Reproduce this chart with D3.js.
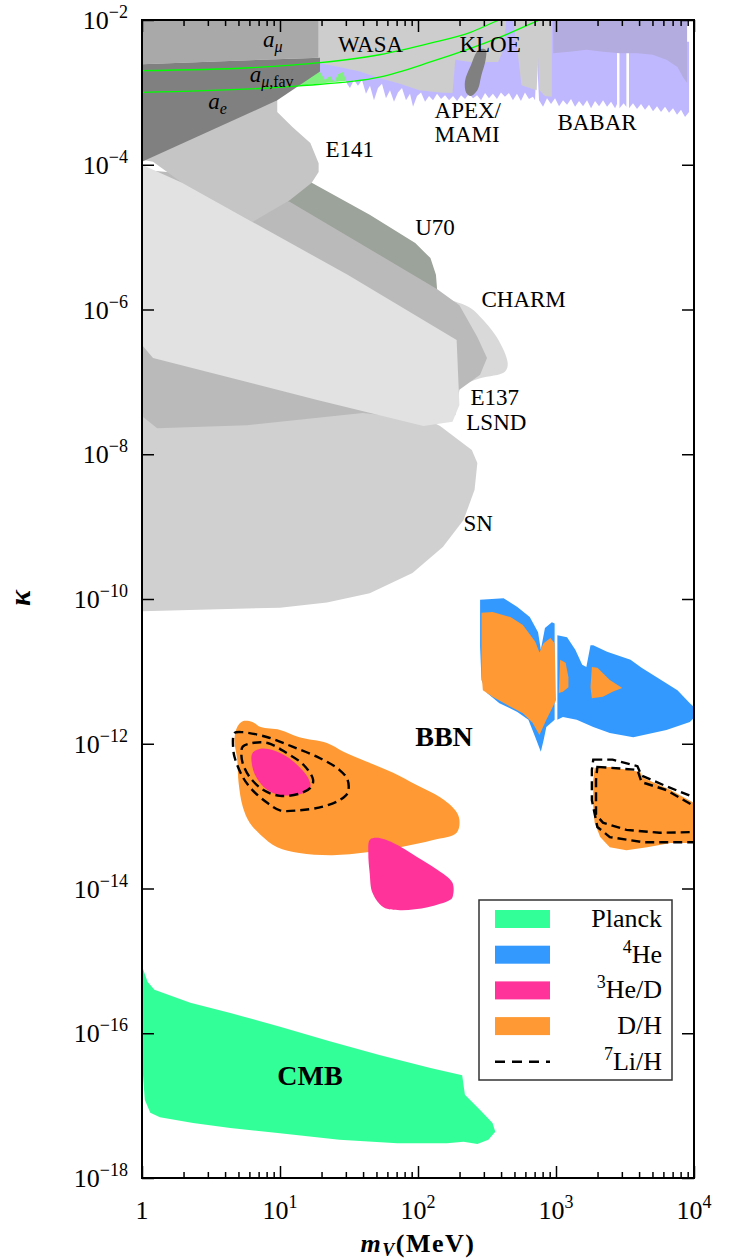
<!DOCTYPE html>
<html>
<head>
<meta charset="utf-8">
<script src="https://cdnjs.cloudflare.com/ajax/libs/d3/7.8.5/d3.min.js"></script>
<style>
  body { margin: 0; background: #fff; }
  svg text { font-family: "Liberation Serif", "DejaVu Serif", serif; fill: #000; }
</style>
</head>
<body>
<svg id="chart" width="735" height="1259" font-family="Liberation Serif, DejaVu Serif, serif"></svg>
<script>
// All region outlines are [log10(m_V / MeV), log10(kappa)] pairs.

// --- excluded regions from beam dumps, colliders, g-2 and supernovae ---
const snRegion = [[0,-7.32],[1.15,-7.32],[2.01,-7.46],[2.16,-7.61],[2.39,-7.94],[2.43,-8.12],[2.41,-8.49],[2.33,-8.91],[2.18,-9.28],[1.96,-9.64],[1.65,-9.92],[1.34,-10.05],[1.0,-10.12],[0,-10.17]];
const charmRegion = [[2.16,-5.87],[2.30,-5.91],[2.38,-5.98],[2.45,-6.10],[2.57,-6.38],[2.65,-6.74],[2.63,-6.86],[2.45,-6.95],[2.30,-7.04],[2.16,-7.04]];
const u70Region = [[0.78,-3.66],[1.23,-4.25],[1.65,-4.69],[1.98,-5.08],[2.09,-5.29],[2.13,-5.52],[2.14,-5.76],[1.87,-5.45],[1.07,-4.55],[0.78,-4.21]];
const e137Region = [[0,-4.07],[0.42,-4.14],[1.07,-4.51],[2.14,-5.72],[2.30,-5.94],[2.43,-6.38],[2.50,-6.67],[2.45,-6.90],[2.30,-7.11],[2.27,-7.46],[2.09,-7.53],[1.60,-7.43],[0.76,-7.60],[0.11,-7.64],[0.01,-7.49],[0,-7.25]];
const e141Region = [[0,-3.66],[0.88,-3.04],[0.98,-3.11],[0.98,-3.27],[1.09,-3.48],[1.22,-3.70],[1.28,-3.98],[1.28,-4.10],[1.23,-4.25],[1.07,-4.49],[0.80,-4.79],[0.29,-4.25],[0.08,-3.96],[0,-3.93]];
const lsndRegion = [[0,-4.0],[0.29,-4.25],[0.80,-4.79],[1.49,-5.52],[2.28,-6.42],[2.30,-7.32],[2.25,-7.55],[2.04,-7.61],[1.27,-7.25],[0.08,-6.67],[0,-6.49]];
const amuRegion = [[0,-2],[1.28,-2],[1.28,-2.52],[0,-2.61]];
const aeRegion = [[0,-2.61],[1.29,-2.52],[1.29,-2.71],[0.98,-3.11],[0,-3.96]];
const wasaRegion = [[1.28,-2.0],[2.64,-2.0],[2.62,-2.41],[2.58,-2.58],[2.38,-2.58],[2.27,-2.55],[2.25,-3.01],[2.16,-3.00],[2.01,-2.97],[1.87,-2.88],[1.72,-2.80],[1.58,-2.71],[1.43,-2.65],[1.28,-2.59]];
const kloeRegion = [[2.69,-2.0],[2.97,-2.0],[2.97,-3.06],[2.92,-3.05],[2.88,-2.97],[2.87,-2.52],[2.86,-2.97],[2.81,-2.94],[2.75,-2.90],[2.72,-2.41]];
const kloeBlob = [[2.44,-2.41],[2.49,-2.41],[2.49,-2.55],[2.46,-2.76],[2.43,-2.97],[2.38,-3.05],[2.35,-3.01],[2.34,-2.85],[2.38,-2.64]];

// lower edge of the APEX / MAMI / BABAR exclusion (left to right)
const apexLowerEdge = [[1.290,-2.72],[1.326,-2.83],[1.362,-2.77],[1.391,-2.86],[1.420,-2.75],[1.457,-2.72],[1.486,-2.88],[1.507,-2.94],[1.536,-2.83],[1.565,-2.91],[1.594,-2.83],[1.623,-3.02],[1.652,-2.91],[1.681,-3.11],[1.710,-2.94],[1.739,-2.88],[1.768,-3.08],[1.797,-2.97],[1.826,-3.13],[1.855,-3.00],[1.884,-2.94],[1.913,-3.11],[1.942,-3.02],[1.964,-3.20],[1.993,-3.05],[2.022,-3.00],[2.051,-3.13],[2.080,-3.05],[2.109,-3.11],[2.138,-3.02],[2.167,-3.09],[2.196,-3.04],[2.225,-3.11],[2.254,-3.05],[2.283,-3.12],[2.312,-3.04],[2.341,-3.09],[2.370,-3.02],[2.399,-3.08],[2.428,-3.04],[2.457,-3.11],[2.486,-3.01],[2.514,-3.08],[2.543,-3.02],[2.572,-3.09],[2.601,-3.00],[2.630,-3.06],[2.659,-3.01],[2.688,-3.11],[2.717,-3.02],[2.746,-3.12],[2.775,-3.00],[2.804,-3.09],[2.833,-3.06],[2.848,-3.11],[2.862,-2.48],[2.877,-3.11],[2.906,-3.20],[2.935,-3.08],[2.964,-3.16],[2.993,-3.08],[3.022,-3.19],[3.051,-3.11],[3.080,-3.17],[3.109,-3.09],[3.138,-3.20],[3.167,-3.12],[3.196,-3.19],[3.225,-3.11],[3.254,-3.22],[3.283,-3.12],[3.312,-3.19],[3.341,-3.11],[3.370,-3.20],[3.399,-3.13],[3.428,-3.22],[3.442,-3.16]];
const babarGapEdge = [[3.46,-3.22],[3.49,-3.15],[3.51,-3.20]];
const babarLowerEdge = [[3.529,-3.22],[3.558,-3.15],[3.587,-3.23],[3.616,-3.16],[3.645,-3.24],[3.674,-3.17],[3.703,-3.26],[3.732,-3.19],[3.761,-3.27],[3.790,-3.20],[3.819,-3.28],[3.848,-3.22],[3.877,-3.31],[3.906,-3.24],[3.935,-3.34],[3.964,-3.27]];
const babarRegion = [[2.98,-2.0],[3.95,-2.0],[3.95,-2.87],[3.92,-2.79],[3.88,-2.65],[3.80,-2.55],[3.70,-2.48],[3.59,-2.46],[3.46,-2.46],[3.34,-2.44],[3.22,-2.41],[3.10,-2.44],[2.98,-2.46]];
const amuFavUpper = [[0,-2.70],[0.78,-2.66],[1.29,-2.59],[1.72,-2.48],[2.09,-2.32],[2.38,-2.17],[2.59,-2.0],[2.75,-1.9]];
const amuFavLower = [[0,-3.00],[1.14,-2.91],[1.72,-2.79],[2.09,-2.58],[2.59,-2.24],[2.88,-2.0],[3.0,-1.9]];

// --- BBN constraints ---
const he4Regions = [
  [[2.45,-10.01],[2.62,-9.99],[2.72,-10.11],[2.81,-10.25],[2.87,-10.46],[2.89,-10.70],[2.92,-10.40],[2.97,-10.32],[2.99,-10.34],[2.99,-11.67],[2.93,-11.77],[2.91,-11.95],[2.89,-12.11],[2.85,-11.91],[2.80,-11.67],[2.72,-11.56],[2.59,-11.44],[2.50,-11.30],[2.46,-11.12],[2.45,-10.66]],
  [[3.01,-10.50],[3.08,-10.53],[3.14,-10.70],[3.19,-10.91],[3.22,-10.94],[3.25,-10.64],[3.27,-10.64],[3.37,-10.73],[3.54,-10.84],[3.62,-10.95],[3.73,-11.08],[3.88,-11.26],[3.97,-11.44],[4.04,-11.56],[3.97,-11.70],[3.80,-11.81],[3.56,-11.91],[3.39,-11.85],[3.27,-11.77],[3.15,-11.67],[3.05,-11.63],[3.01,-11.67]]
];
const dhHeavyRegions = [
  [[2.46,-10.19],[2.54,-10.18],[2.67,-10.25],[2.76,-10.36],[2.85,-10.59],[2.88,-10.74],[2.91,-10.61],[2.96,-10.54],[2.99,-10.61],[3.00,-11.40],[2.93,-11.67],[2.88,-11.88],[2.83,-11.71],[2.76,-11.58],[2.67,-11.49],[2.54,-11.35],[2.47,-11.26],[2.46,-11.02]],
  [[3.03,-10.84],[3.07,-10.88],[3.09,-11.08],[3.09,-11.22],[3.05,-11.28],[3.02,-11.30]],
  [[3.26,-10.94],[3.30,-10.95],[3.39,-11.12],[3.48,-11.23],[3.41,-11.28],[3.34,-11.35],[3.26,-11.37],[3.25,-11.22]]
];
const dhLightRegion = [[0.69,-11.77],[0.73,-11.69],[0.80,-11.70],[0.86,-11.77],[1.00,-11.81],[1.14,-11.91],[1.34,-11.99],[1.46,-12.11],[1.63,-12.25],[1.82,-12.40],[1.99,-12.57],[2.16,-12.74],[2.27,-12.92],[2.30,-13.05],[2.28,-13.23],[2.11,-13.33],[1.87,-13.43],[1.63,-13.50],[1.38,-13.54],[1.14,-13.51],[0.98,-13.43],[0.86,-13.26],[0.78,-13.09],[0.73,-12.87],[0.70,-12.54],[0.69,-12.22],[0.67,-11.95]];
const dhHighRegion = [[3.28,-12.33],[3.39,-12.32],[3.61,-12.39],[3.63,-12.47],[3.83,-12.64],[4.0,-12.82],[4.12,-12.94],[4.12,-13.40],[4.0,-13.37],[3.83,-13.37],[3.66,-13.43],[3.51,-13.47],[3.39,-13.43],[3.32,-13.29],[3.28,-13.09],[3.27,-12.87],[3.27,-12.50]];
const he3dRegions = [
  [[0.80,-12.13],[0.86,-12.07],[0.95,-12.09],[1.05,-12.18],[1.14,-12.32],[1.20,-12.46],[1.22,-12.60],[1.17,-12.68],[1.09,-12.71],[1.00,-12.71],[0.91,-12.64],[0.84,-12.50],[0.80,-12.32]],
  [[1.65,-13.33],[1.70,-13.30],[1.82,-13.37],[1.99,-13.56],[2.14,-13.74],[2.25,-13.92],[2.25,-14.12],[2.23,-14.16],[2.07,-14.26],[1.87,-14.30],[1.75,-14.26],[1.67,-14.06],[1.65,-13.79],[1.64,-13.51]]
];
const li7LowContours = [
  [[0.66,-11.92],[0.67,-11.85],[0.73,-11.84],[0.91,-11.91],[1.09,-12.04],[1.29,-12.20],[1.43,-12.36],[1.49,-12.50],[1.49,-12.68],[1.43,-12.78],[1.31,-12.87],[1.14,-12.92],[1.00,-12.92],[0.91,-12.82],[0.80,-12.64],[0.73,-12.46],[0.67,-12.18],[0.66,-12.04]],
  [[0.73,-12.04],[0.80,-11.99],[0.91,-11.99],[1.05,-12.13],[1.17,-12.29],[1.24,-12.50],[1.22,-12.61],[1.14,-12.69],[1.00,-12.72],[0.88,-12.64],[0.78,-12.46],[0.73,-12.27],[0.72,-12.13]]
];
const li7HighContours = [
  [[3.27,-12.22],[3.41,-12.22],[3.59,-12.31],[3.62,-12.44],[3.79,-12.58],[4.0,-12.74],[4.12,-12.86],[4.12,-13.37],[4.0,-13.36],[3.63,-13.36],[3.39,-13.29],[3.30,-13.15],[3.26,-12.78],[3.26,-12.36]],
  [[3.30,-12.32],[3.59,-12.36],[3.62,-12.53],[3.80,-12.64],[4.0,-12.86],[4.12,-12.98],[4.12,-13.22],[4.0,-13.22],[3.75,-13.23],[3.51,-13.19],[3.34,-13.09],[3.29,-12.98],[3.29,-12.50]]
];

// --- CMB (Planck) ---
const cmbRegion = [[0,-15.07],[0.04,-15.29],[0.09,-15.40],[0.35,-15.58],[0.64,-15.72],[1.0,-15.91],[1.36,-16.11],[1.72,-16.30],[2.09,-16.48],[2.32,-16.58],[2.34,-16.85],[2.45,-17.06],[2.54,-17.24],[2.56,-17.36],[2.51,-17.47],[2.43,-17.53],[2.33,-17.50],[2.21,-17.52],[1.85,-17.52],[1.43,-17.47],[1.0,-17.38],[0.64,-17.31],[0.37,-17.24],[0.13,-17.16],[0.06,-17.10],[0.02,-16.92],[0.01,-16.65],[0,-16.37]];

// --- axis ticks and labels ---
const xTickValues = [1, 10, 100, 1000, 10000];
const xTickExponents = ["", "1", "2", "3", "4"];
const yTickValues = [1e-2, 1e-4, 1e-6, 1e-8, 1e-10, 1e-12, 1e-14, 1e-16, 1e-18];
const yTickExponents = ["−2", "−4", "−6", "−8", "−10", "−12", "−14", "−16", "−18"];

// --- region names placed at [log10 m, log10 kappa] of their baseline start ---
const regionLabels = [
  { t: "WASA", m: 1.42, k: -2.44 },
  { t: "KLOE", m: 2.30, k: -2.44 },
  { t: "APEX/", m: 2.12, k: -3.35 },
  { t: "MAMI", m: 2.12, k: -3.68 },
  { t: "BABAR", m: 3.01, k: -3.52 },
  { t: "E141", m: 1.33, k: -3.89 },
  { t: "U70", m: 1.98, k: -4.97 },
  { t: "CHARM", m: 2.46, k: -5.965 },
  { t: "E137", m: 2.38, k: -7.32 },
  { t: "LSND", m: 2.35, k: -7.67 },
  { t: "SN", m: 2.33, k: -9.06 }
];
const boldLabels = [
  { t: "BBN", m: 1.98, k: -12.03 },
  { t: "CMB", m: 0.98, k: -16.72 }
];
const anomalyLabels = [
  { base: "a", sub: "μ", rest: "", m: 0.877, k: -2.37 },
  { base: "a", sub: "μ", rest: ",fav", m: 0.78, k: -2.86 },
  { base: "a", sub: "e", rest: "", m: 0.48, k: -3.23 }
];
const legendItems = [
  { sup: "", name: "Planck", color: "#33ff99" },
  { sup: "4", name: "He", color: "#3399ff" },
  { sup: "3", name: "He/D", color: "#ff3399" },
  { sup: "", name: "D/H", color: "#ff9933" },
  { sup: "7", name: "Li/H", color: null }
];

// ---------------------------------------------------------------------------
const plot = { left: 142, right: 694, top: 20, bottom: 1178 };
const x = d3.scaleLog().domain([1, 1e4]).range([plot.left, plot.right]);
const y = d3.scaleLog().domain([1e-18, 1e-2]).range([plot.bottom, plot.top]);

const svg = d3.select("#chart");
svg.append("defs").append("clipPath").attr("id", "plotClip")
  .append("rect")
  .attr("x", plot.left).attr("y", plot.top)
  .attr("width", plot.right - plot.left).attr("height", plot.bottom - plot.top);

const px = d => x(Math.pow(10, d[0]));
const py = d => y(Math.pow(10, d[1]));
const linear = d3.line().x(px).y(py).curve(d3.curveLinearClosed);
const smooth = d3.line().x(px).y(py).curve(d3.curveCatmullRomClosed.alpha(0.5));
const openLine = d3.line().x(px).y(py).curve(d3.curveMonotoneX);

const layer = svg.append("g").attr("clip-path", "url(#plotClip)");
function area(points, fill, gen = linear) {
  layer.append("path").attr("d", gen(points)).attr("fill", fill).attr("stroke", "none");
}
// a region that reaches the top of the plot, bounded below by a jagged edge
function hanging(edge, top) {
  const first = edge[0][0], last = edge[edge.length - 1][0];
  return [[first, top], [last, top]].concat(edge.slice().reverse());
}

// muon g-2 favoured band (visible only where nothing else covers it)
area(amuFavUpper.concat(amuFavLower.slice().reverse()), "#80f080");
area(hanging(apexLowerEdge, -2.0), "#c0b8ff");
area(hanging(babarGapEdge, -2.3), "#c0b8ff");
area(hanging(babarLowerEdge, -2.3), "#c0b8ff");
area(wasaRegion, "#cdcdcd");
area(kloeRegion, "#cdcdcd");
area(babarRegion, "#b3addf");
area(kloeBlob, "#808080", smooth);

area(snRegion, "#d0d0d0");
area(charmRegion, "#d9d9d9", smooth);
area(u70Region, "#9ca39a");
area(e137Region, "#bababa");
area(e141Region, "#c5c5c5");
area(lsndRegion, "#e2e2e2");
area(amuRegion, "#a9a9a9");
area(aeRegion, "#808080");

[amuFavUpper, amuFavLower].forEach(l =>
  layer.append("path").attr("d", openLine(l)).attr("fill", "none")
    .attr("stroke", "#00ff00").attr("stroke-width", 1.3));

// BBN
he4Regions.forEach(p => area(p, "#3399ff"));
dhHeavyRegions.forEach(p => area(p, "#ff9933"));
area(dhLightRegion, "#ff9933", smooth);
he3dRegions.forEach(p => area(p, "#ff3399", smooth));
area(dhHighRegion, "#ff9933");
li7LowContours.forEach(p =>
  layer.append("path").attr("d", smooth(p)).attr("fill", "none")
    .attr("stroke", "#000").attr("stroke-width", 2.4).attr("stroke-dasharray", "9,5"));
li7HighContours.forEach(p =>
  layer.append("path").attr("d", linear(p)).attr("fill", "none")
    .attr("stroke", "#000").attr("stroke-width", 2.4).attr("stroke-dasharray", "9,5"));

// CMB
area(cmbRegion, "#33ff99");

// region names
const labels = svg.append("g");
regionLabels.forEach(d =>
  labels.append("text").attr("x", x(Math.pow(10, d.m))).attr("y", y(Math.pow(10, d.k)))
    .attr("font-size", 23).text(d.t));
boldLabels.forEach(d =>
  labels.append("text").attr("x", x(Math.pow(10, d.m))).attr("y", y(Math.pow(10, d.k)))
    .attr("font-size", 28).attr("font-weight", "bold").text(d.t));
anomalyLabels.forEach(d => {
  const t = labels.append("text").attr("x", x(Math.pow(10, d.m))).attr("y", y(Math.pow(10, d.k)))
    .attr("font-size", 23);
  t.append("tspan").attr("font-style", "italic").text(d.base);
  t.append("tspan").attr("dy", 5).attr("font-size", 16).attr("font-style", "italic").text(d.sub);
  if (d.rest) t.append("tspan").attr("font-size", 16).text(d.rest);
});

// axes: ticks point inward on all four sides
const minorX = x.ticks().filter(v => !xTickValues.includes(v));
function styleAxis(g) {
  g.select(".domain").remove();
  g.selectAll(".tick line").attr("stroke", "#000").attr("stroke-width", 1.5);
  g.selectAll(".tick text").remove();
}
svg.append("g").attr("transform", `translate(0,${plot.bottom})`)
  .call(d3.axisBottom(x).tickValues(xTickValues).tickSize(-12)).call(styleAxis);
svg.append("g").attr("transform", `translate(0,${plot.bottom})`)
  .call(d3.axisBottom(x).tickValues(minorX).tickSize(-6)).call(styleAxis);
svg.append("g").attr("transform", `translate(0,${plot.top})`)
  .call(d3.axisTop(x).tickValues(xTickValues).tickSize(-12)).call(styleAxis);
svg.append("g").attr("transform", `translate(0,${plot.top})`)
  .call(d3.axisTop(x).tickValues(minorX).tickSize(-6)).call(styleAxis);
svg.append("g").attr("transform", `translate(${plot.left},0)`)
  .call(d3.axisLeft(y).tickValues(yTickValues).tickSize(-12)).call(styleAxis);
svg.append("g").attr("transform", `translate(${plot.right},0)`)
  .call(d3.axisRight(y).tickValues(yTickValues).tickSize(-12)).call(styleAxis);

svg.append("rect")
  .attr("x", plot.left).attr("y", plot.top)
  .attr("width", plot.right - plot.left).attr("height", plot.bottom - plot.top)
  .attr("fill", "none").attr("stroke", "#000").attr("stroke-width", 2);

// tick labels
xTickValues.forEach((v, i) => {
  const t = svg.append("text").attr("x", x(v)).attr("y", 1219)
    .attr("text-anchor", "middle").attr("font-size", 26);
  if (xTickExponents[i] === "") { t.text("1"); return; }
  t.append("tspan").text("10");
  t.append("tspan").attr("dy", -11).attr("font-size", 18).text(xTickExponents[i]);
});
yTickValues.forEach((v, i) => {
  const t = svg.append("text").attr("x", 128).attr("y", y(v) + 9)
    .attr("text-anchor", "end").attr("font-size", 26);
  t.append("tspan").text("10");
  t.append("tspan").attr("dy", -11).attr("font-size", 18).text(yTickExponents[i]);
});

// axis titles
svg.append("text")
  .attr("transform", "translate(30,598) rotate(-90)")
  .attr("text-anchor", "middle").attr("font-size", 30)
  .attr("font-weight", "bold").attr("font-style", "italic").text("κ");
const xt = svg.append("text").attr("x", (plot.left + plot.right) / 2).attr("y", 1252)
  .attr("text-anchor", "middle").attr("font-size", 26).attr("font-weight", "bold")
  .attr("letter-spacing", 1.5);
xt.append("tspan").attr("font-style", "italic").text("m");
xt.append("tspan").attr("font-style", "italic").attr("font-size", 18).attr("dy", 4).text("V");
xt.append("tspan").attr("dy", -4).text("(MeV)");

// legend
const lg = svg.append("g");
lg.append("rect").attr("x", 479).attr("y", 900).attr("width", 193).attr("height", 180)
  .attr("fill", "#fff").attr("stroke", "#333").attr("stroke-width", 1.5);
legendItems.forEach((d, i) => {
  const cy = 919 + i * 35.7;
  if (d.color) {
    lg.append("rect").attr("x", 495).attr("y", cy - 9).attr("width", 55).attr("height", 18)
      .attr("fill", d.color);
  } else {
    lg.append("line").attr("x1", 495).attr("x2", 550).attr("y1", cy).attr("y2", cy)
      .attr("stroke", "#000").attr("stroke-width", 2.4).attr("stroke-dasharray", "10,7");
  }
  const t = lg.append("text").attr("x", 662).attr("y", cy + 8)
    .attr("text-anchor", "end").attr("font-size", 26);
  if (d.sup) {
    t.append("tspan").attr("dy", -10).attr("font-size", 18).text(d.sup);
    t.append("tspan").attr("dy", 10).text(d.name);
  } else {
    t.text(d.name);
  }
});
</script>
</body>
</html>
